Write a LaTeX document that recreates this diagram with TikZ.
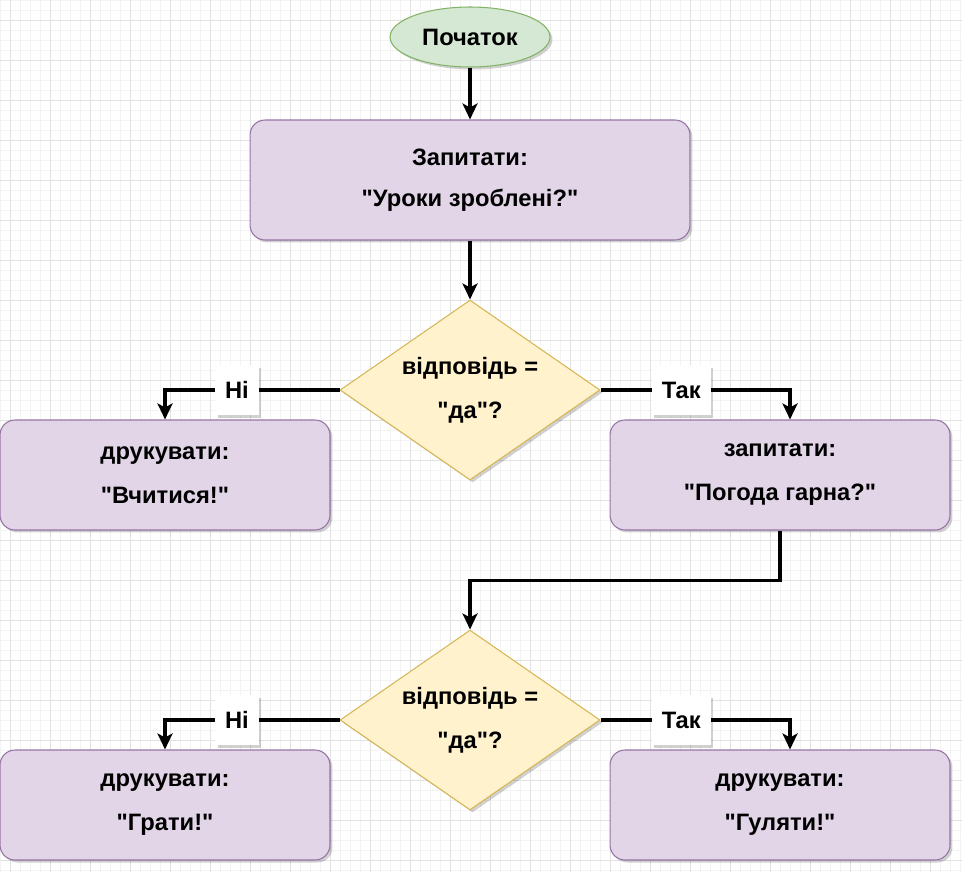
\documentclass[tikz,border=0pt]{standalone}
\usepackage{fontspec}
\setmainfont{Liberation Sans}
\usetikzlibrary{positioning, arrows.meta, shapes.geometric, shadows}
\definecolor{startgreen}{HTML}{D5E8D4}
\definecolor{startline}{HTML}{82B366}
\definecolor{actpurple}{HTML}{E1D5E7}
\definecolor{actline}{HTML}{9673A6}
\definecolor{askyellow}{HTML}{FFF2CC}
\definecolor{askline}{HTML}{D6B656}
\definecolor{gridminor}{HTML}{F3F3F3}
\definecolor{gridmajor}{HTML}{E2E2E2}
\newcommand\dq{\textquotedbl}

\begin{document}
\begin{tikzpicture}[
      x=0.02cm, y=-0.02cm,
      every node/.style={font=\fontsize{13.5}{16}\selectfont\bfseries},
      softshadow/.style={drop shadow={shadow xshift=0.05cm, shadow yshift=-0.05cm,
                         opacity=0.18, fill=black}},
      startnode/.style={ellipse, draw=startline, fill=startgreen, line width=0.6pt,
                        minimum width=3.2cm, minimum height=1.2cm, softshadow},
      abox/.style={draw=actline, fill=actpurple, line width=0.6pt, rounded corners=0.3cm,
                   minimum height=2.2cm, align=center, softshadow},
      decide/.style={diamond, aspect=1.44, draw=askline, fill=askyellow, line width=0.6pt,
                     minimum width=5.2cm, minimum height=3.6cm, inner sep=0pt,
                     align=center, softshadow},
      lbl/.style={fill=white, minimum height=1.0cm, inner xsep=0.2cm, softshadow},
      flow/.style={draw=black, line width=2pt,
                   -{Stealth[length=0.32cm, width=0.3cm, inset=0.08cm]}},
    ]
    \useasboundingbox (0,0) rectangle (962,872);
    % grid
    \foreach \gx in {0,10,...,960} \draw[gridminor, line width=0.4pt] (\gx,0) -- (\gx,872);
    \foreach \gy in {0,10,...,870} \draw[gridminor, line width=0.4pt] (0,\gy) -- (962,\gy);
    \foreach \gx in {10,50,...,930} \draw[gridmajor, line width=0.5pt] (\gx,0) -- (\gx,872);
    \foreach \gy in {20,60,...,860} \draw[gridmajor, line width=0.5pt] (0,\gy) -- (962,\gy);

    \node[startnode] (start) at (470,37) {Початок};
    \node[abox, minimum width=8.8cm, minimum height=2.4cm] (ask1) at (470,180)
      {Запитати:\\[7pt]\dq Уроки зроблені?\dq};
    \node[decide] (dec1) at (470,390) {відповідь =\\[9pt]\dq да\dq?};
    \node[abox, minimum width=6.6cm] (study) at (165,475)
      {друкувати:\\[9pt]\dq Вчитися!\dq};
    \node[abox, minimum width=6.8cm] (ask2) at (780,475)
      {запитати:\\[9pt]\dq Погода гарна?\dq};

    \node[decide] (dec2) at (470,720) {відповідь =\\[9pt]\dq да\dq?};
    \node[abox, minimum width=6.6cm] (play) at (165,805)
      {друкувати:\\[9pt]\dq Грати!\dq};
    \node[abox, minimum width=6.8cm] (walk) at (780,805)
      {друкувати:\\[9pt]\dq Гуляти!\dq};

    \draw[flow] (start) -- (ask1);
    \draw[flow] (ask1) -- (dec1);
    \draw[flow] (dec1.west) -| node[lbl, pos=0.294] {Ні} (study.north);
    \draw[flow] (dec1.east) -| node[lbl, pos=0.213] {Так} ([xshift=0.2cm]ask2.north);
    \draw[flow] (ask2.south) -- ++(0,50) -| (dec2.north);
    \draw[flow] (dec2.west) -| node[lbl, pos=0.294] {Ні} (play.north);
    \draw[flow] (dec2.east) -| node[lbl, pos=0.213] {Так} ([xshift=0.2cm]walk.north);
  \end{tikzpicture}
\end{document}
